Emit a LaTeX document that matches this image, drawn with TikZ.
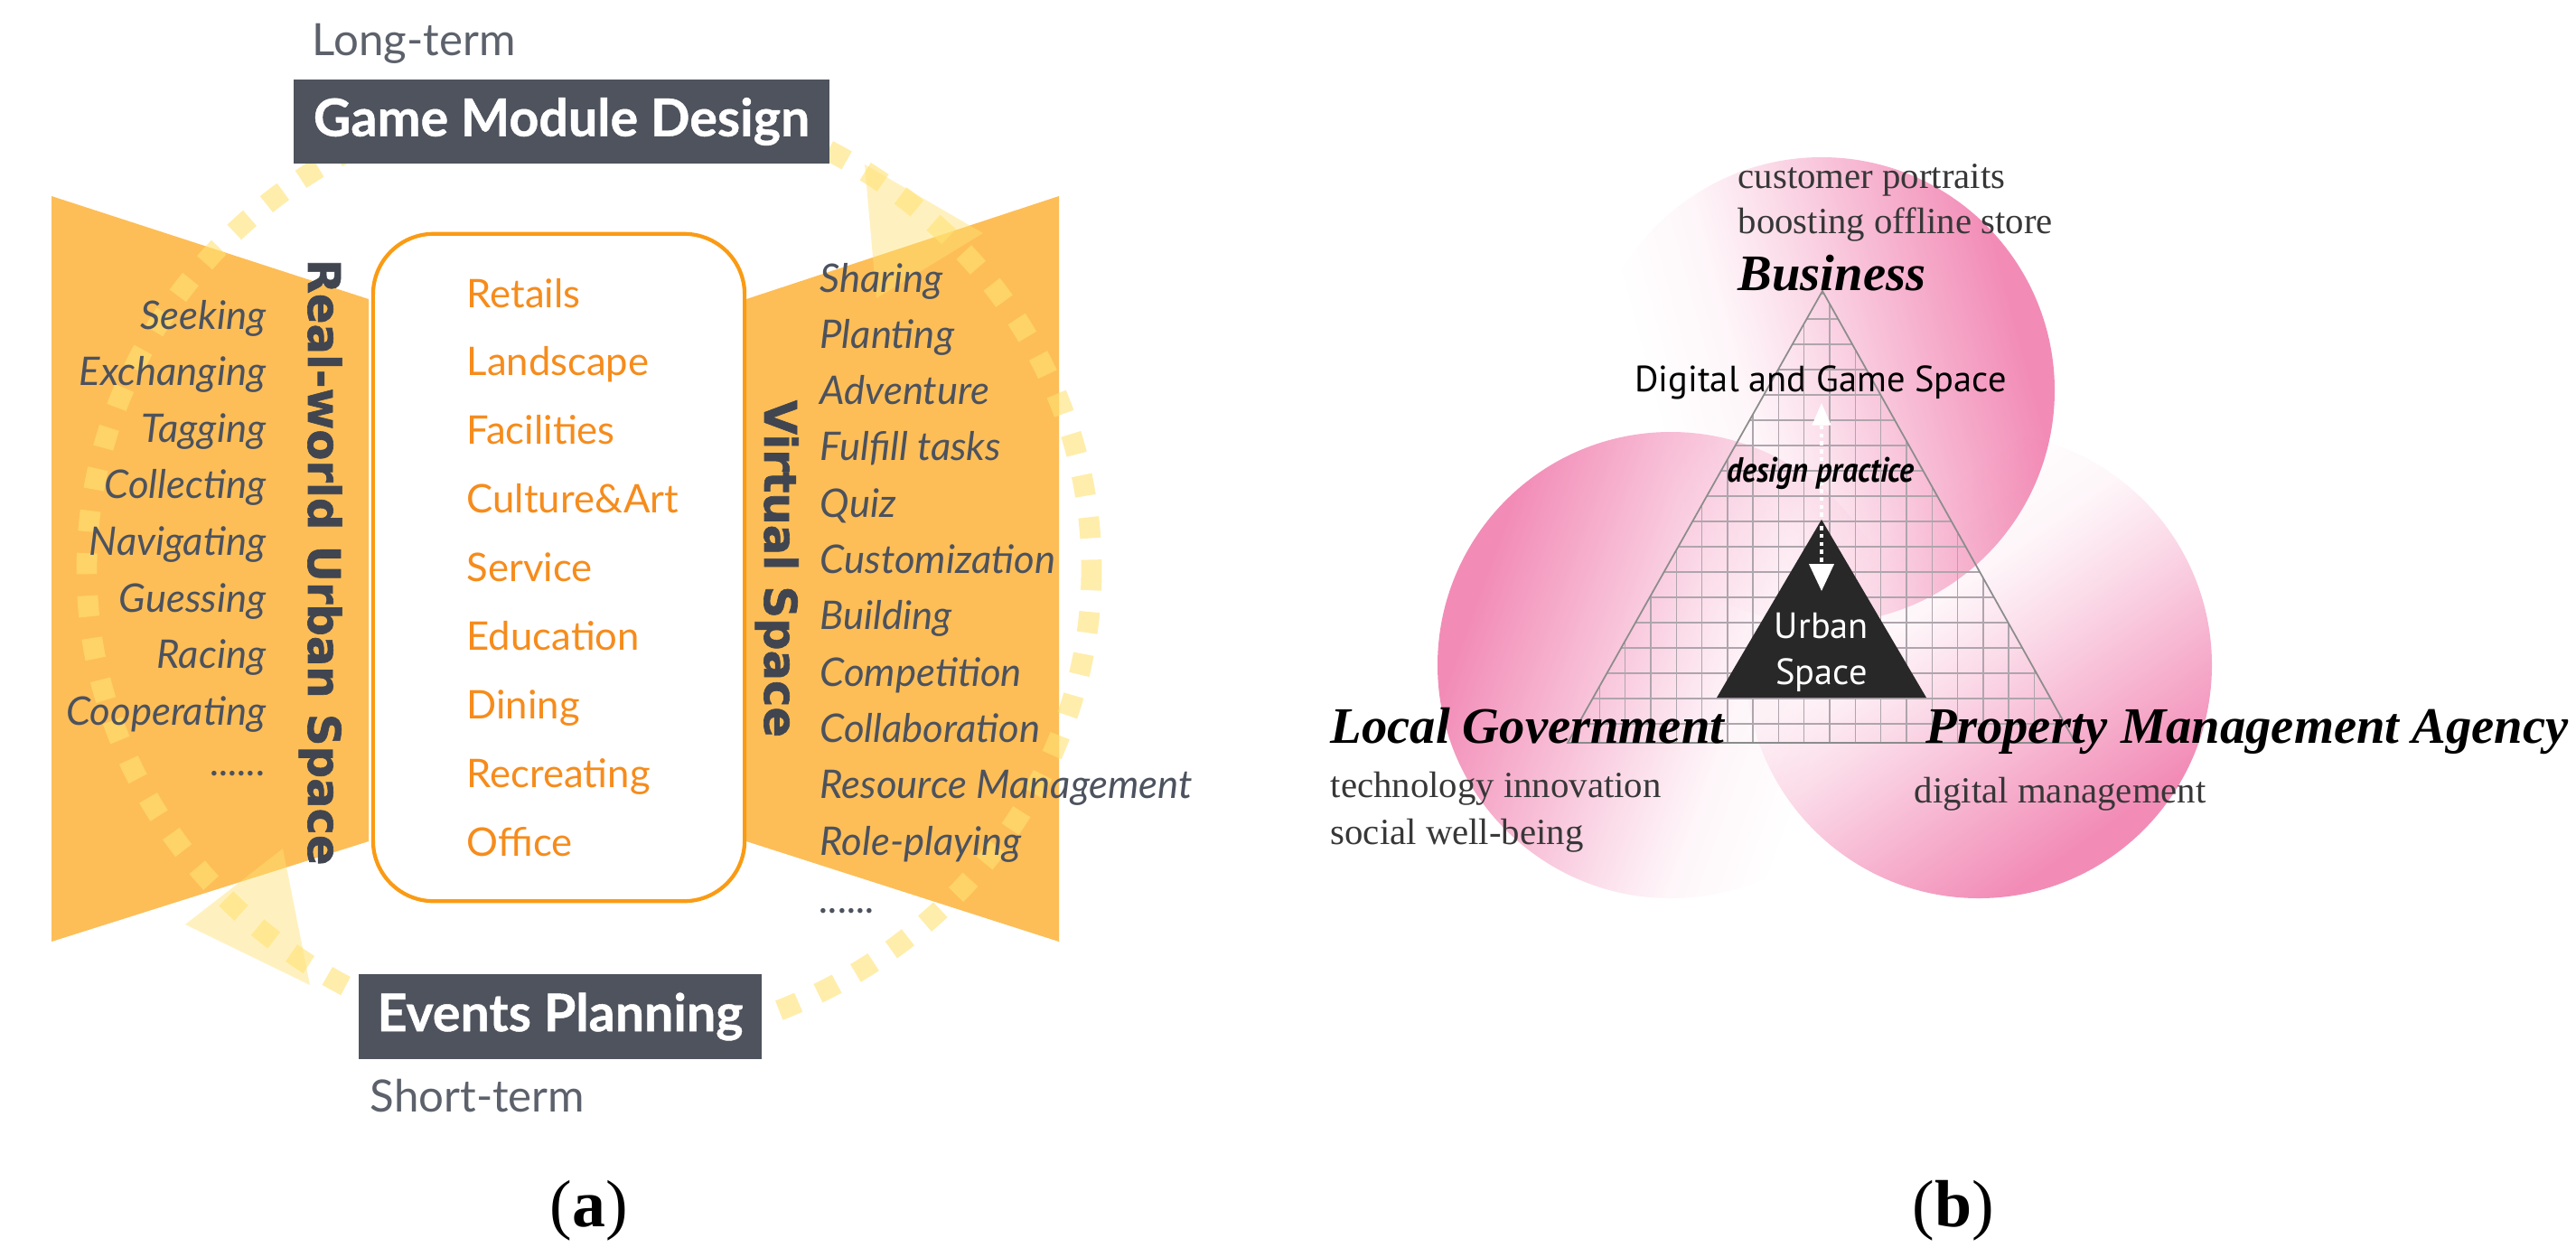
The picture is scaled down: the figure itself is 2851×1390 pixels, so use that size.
\documentclass[tikz,border=0pt]{standalone}
\usepackage{fontspec}
\setmainfont{Liberation Serif}
\newfontfamily\lato{Lato}
\newfontfamily\latobox{Lato}[BoldFeatures={FakeBold=0.8}]
\newfontfamily\dejavu{DejaVu Sans}[BoldFeatures={FakeBold=1.3}]
\newfontfamily\ptsans{PT Sans}
\newfontfamily\ptcond{PT Sans}[FakeStretch=0.88]
\usetikzlibrary{arrows.meta}
\definecolor{orangefill}{RGB}{253,190,87}
\definecolor{orangeline}{RGB}{250,155,20}
\definecolor{orangetxt}{RGB}{246,140,28}
\definecolor{slate}{RGB}{76,82,94}
\definecolor{vertgray}{RGB}{64,69,80}
\definecolor{boxgray}{RGB}{78,83,93}
\definecolor{termgray}{RGB}{92,97,107}
\definecolor{dashyel}{RGB}{255,226,115}
\definecolor{pinkc}{RGB}{242,140,183}
\definecolor{urbanblack}{RGB}{40,40,40}
\definecolor{sertext}{RGB}{55,55,55}
\definecolor{gridc}{RGB}{175,165,172}
\definecolor{triline}{RGB}{140,140,140}
\pgfdeclareverticalshading{pfade}{100bp}{color(0bp)=(white); color(25bp)=(white); color(32bp)=(white); color(42bp)=(pinkc!8!white); color(50bp)=(pinkc!30!white); color(60bp)=(pinkc!62!white); color(72bp)=(pinkc); color(100bp)=(pinkc)}
\tikzset{
  listL/.style={font=\lato\itshape\fontsize{12.4}{14}\selectfont, text=slate, anchor=base east, inner sep=0pt},
  listR/.style={font=\lato\itshape\fontsize{12.4}{14}\selectfont, text=slate, anchor=base west, inner sep=0pt},
  listC/.style={font=\lato\fontsize{12.4}{14}\selectfont, text=orangetxt, anchor=base west, inner sep=0pt},
  vertT/.style={font=\dejavu\bfseries\fontsize{14.1}{16}\selectfont, text=vertgray, rotate=-90, anchor=base west, inner sep=0pt},
  darkbox/.style={fill=boxgray, text=white, font=\latobox\bfseries\fontsize{16.3}{18}\selectfont, inner sep=0pt},
  termT/.style={font=\lato\fontsize{14}{16}\selectfont, text=termgray, anchor=base west, inner sep=0pt},
  sersmall/.style={font=\fontsize{11.6}{13}\selectfont, text=sertext, anchor=base west, inner sep=0pt},
  serbig/.style={font=\bfseries\itshape\fontsize{16.1}{18}\selectfont, text=black, anchor=base west, inner sep=0pt},
  dgs/.style={font=\ptsans\fontsize{11.5}{13}\selectfont, text=black, anchor=base, inner sep=0pt},
  dprac/.style={font=\ptcond\bfseries\itshape\fontsize{11}{13}\selectfont, text=black, anchor=base, inner sep=0pt},
  urb/.style={font=\ptsans\fontsize{11.5}{13}\selectfont, text=white, anchor=base, inner sep=0pt},
  capt/.style={font=\fontsize{21}{24}\selectfont, text=black, anchor=base, inner sep=0pt},
  gridline/.style={gridc, line width=0.4pt},
  dashring/.style={dashyel, opacity=0.6, line width=6.5pt, dash pattern=on 6.6pt off 6.8pt},
  arrowtri/.style={fill=dashyel, fill opacity=0.45},
  whitearrow/.style={white, line width=1pt, dash pattern=on 1.3pt off 1.2pt},
}
\begin{document}
\begin{tikzpicture}[x=0.01cm, y=-0.01cm]
\useasboundingbox (0,0) rectangle (2851,1390);
\fill[white] (0,0) rectangle (2851,1390);

% ---------------- panel (a) ----------------
\fill[orangefill] (57,217) -- (408,331) -- (408,931) -- (57,1042) -- cycle;
\fill[orangefill] (1172,217) -- (826,331) -- (826,931) -- (1172,1042) -- cycle;

\draw[dashring] (652,630) ellipse [x radius=556, y radius=527];
\fill[arrowtri] (957,182) -- (1088,258) -- (970,330) -- cycle;
\fill[arrowtri] (205,1023) -- (313,939) -- (343,1090) -- cycle;

\node[draw=orangeline, line width=1.2pt, fill=white, rounded corners=0.67cm,
      minimum width=4.11cm, minimum height=7.38cm, inner sep=0pt] (cbox) at (618.5,628) {};

\foreach \t [count=\i from 0] in {Seeking,Exchanging,Tagging,Collecting,Navigating,Guessing,Racing,Cooperating}
  \node[listL] (l\i) at (295,{364+62.6*\i}) {\t};
\node[listL] (ldots) at (295,858) {......};

\foreach \t [count=\i from 0] in {Sharing,Planting,Adventure,Fulfill tasks,Quiz,Customization,Building,Competition,Collaboration,Resource Management,Role-playing}
  \node[listR] (r\i) at (907,{323+62.3*\i}) {\t};
\node[listR] (rdots) at (907,1010) {......};

\foreach \t [count=\i from 0] in {Retails,Landscape,Facilities,Culture\&Art,Service,Education,Dining,Recreating,Office}
  \node[listC] (c\i) at (516,{340+75.9*\i}) {\t};

\node[vertT] (rw) at (341,286) {Real-world Urban Space};
\node[vertT] (vs) at (846,442) {Virtual Space};

\node[darkbox, minimum width=5.93cm, minimum height=0.93cm] (gmd) at (621.5,134.5) {Game Module Design};
\node[darkbox, minimum width=4.46cm, minimum height=0.94cm] (ev) at (620,1125) {Events Planning};
\node[termT] (lt) at (345,61) {Long-term};
\node[termT] (st) at (409,1230) {Short-term};

\node[capt] (capA) at (652,1357) {(\textbf{a})};

% ---------------- panel (b) ----------------
\begin{scope}[blend group=multiply]
  \shade[shading=pfade, shading angle=-145] (2190,736) circle [radius=258];
  \shade[shading=pfade, shading angle=-75] (2016,432) circle [radius=258];
  \shade[shading=pfade, shading angle=70] (1849,736) circle [radius=258];
\end{scope}

\coordinate (T1) at (2017,322);
\coordinate (T2) at (1735,822);
\coordinate (T3) at (2297,822);
\begin{scope}
  \clip (T1) -- (T2) -- (T3) -- cycle;
  \foreach \k in {-6,...,15} \draw[gridline] ({1883.5+28.3*\k},300) -- ++(0,540);
  \foreach \k in {-5,...,14} \draw[gridline] (1700,{437+28*\k}) -- ++(640,0);
\end{scope}
\draw[triline, line width=0.5pt] (T1) -- (T2) -- (T3) -- cycle;

\coordinate (U1) at (2016,575);
\coordinate (U2) at (1900,772);
\coordinate (U3) at (2132,772);
\fill[urbanblack] (U1) -- (U2) -- (U3) -- cycle;

\coordinate (upA) at (2016,572);
\coordinate (upT) at (2016,446);
\coordinate (dnA) at (2016,582);
\coordinate (dnT) at (2016,654);
\draw[whitearrow, -{Triangle[width=5.8pt,length=7pt]}] (upA) -- (upT);
\draw[whitearrow, -{Triangle[width=7.7pt,length=8.5pt]}] (dnA) -- (dnT);

\node[sersmall] (cp) at (1923,208) {customer portraits};
\node[sersmall] (bo) at (1923,258) {boosting offline store};
\node[serbig] (bus) at (1923,321) {Business};
\node[dgs] (dg) at (2015,433) {Digital and Game Space};
\node[dprac] (dp) at (2015,533) {design practice};
\node[urb] (ub1) at (2016,706) {Urban};
\node[urb] (ub2) at (2016,757) {Space};
\node[serbig] (lg) at (1472,822) {Local Government};
\node[serbig] (pma) at (2131,822) {Property Management Agency};
\node[sersmall] (ti) at (1472,882) {technology innovation};
\node[sersmall] (sw) at (1472,934) {social well-being};
\node[sersmall] (dm) at (2118,888) {digital management};

\node[capt] (capB) at (2162,1357) {(\textbf{b})};
\end{tikzpicture}
\end{document}
